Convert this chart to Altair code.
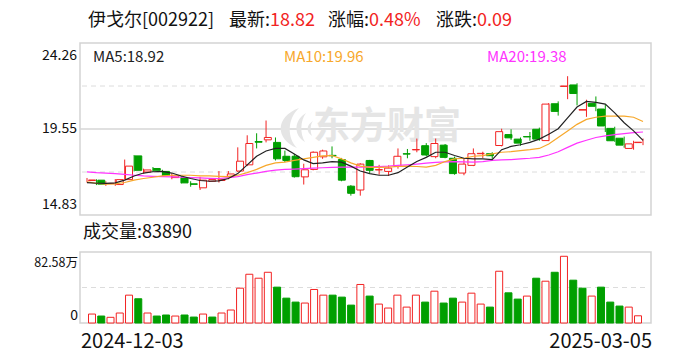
import altair as alt
import pandas as pd

# ---------------- data ----------------
opens = [16.72, 16.74, 16.55, 16.50, 16.77, 18.07, 17.19, 17.38, 17.22, 16.88,
         16.88, 16.54, 16.32, 16.68, 16.72, 16.95, 17.24, 17.58, 18.86, 18.95,
         18.81, 18.05, 18.05, 16.92, 17.33, 18.02, 18.10, 17.87, 16.41, 16.20,
         17.82, 17.30, 17.22, 17.49, 18.19, 18.40, 18.63, 18.03, 18.66, 17.94,
         17.13, 17.55, 18.19, 18.19, 18.64, 19.24, 18.99, 19.13, 19.53, 18.91,
         20.93, 21.88, 21.96, 20.58, 20.95, 20.64, 19.58, 19.04, 18.48, 18.80]
highs = [16.86, 16.79, 16.68, 16.80, 17.87, 18.12, 17.37, 17.46, 17.31, 17.10,
         16.97, 16.68, 16.92, 16.86, 17.24, 17.24, 18.54, 19.20, 19.31, 20.01,
         19.08, 18.36, 18.18, 17.64, 18.32, 18.41, 18.59, 17.96, 16.47, 17.67,
         17.85, 17.58, 17.55, 18.48, 18.45, 19.02, 18.77, 19.02, 18.72, 18.03,
         17.91, 18.48, 18.30, 18.27, 19.56, 19.53, 19.08, 19.38, 19.62, 20.97,
         21.06, 22.44, 22.05, 21.15, 21.33, 20.88, 19.67, 19.13, 18.90, 19.02]
lows = [16.61, 16.47, 16.43, 16.43, 16.77, 17.22, 17.10, 17.19, 16.97, 16.79,
        16.56, 16.38, 16.20, 16.64, 16.61, 16.79, 17.19, 17.51, 18.48, 18.81,
        17.82, 17.73, 16.88, 16.50, 17.28, 17.91, 17.94, 16.68, 15.89, 15.89,
        17.13, 17.04, 16.97, 17.37, 17.94, 18.27, 18.05, 17.94, 17.94, 17.04,
        17.01, 17.51, 17.96, 17.91, 18.59, 18.95, 18.63, 18.90, 18.90, 18.88,
        20.28, 21.18, 20.84, 20.21, 20.52, 19.38, 18.84, 18.52, 18.41, 18.66]
closes = [16.75, 16.52, 16.56, 16.77, 17.51, 17.28, 17.30, 17.28, 17.01, 16.97,
          16.59, 16.51, 16.74, 16.77, 16.79, 17.08, 17.78, 18.75, 18.82, 19.08,
          17.91, 17.82, 16.93, 17.31, 18.27, 18.34, 18.08, 16.74, 16.02, 17.62,
          17.28, 17.32, 17.40, 18.05, 18.17, 18.42, 18.12, 18.75, 17.99, 17.10,
          17.62, 18.19, 18.21, 18.08, 19.40, 19.06, 18.77, 19.11, 18.99, 20.91,
          20.51, 21.90, 21.49, 20.61, 20.79, 19.71, 18.90, 18.66, 18.73, 18.82]
# volume in 万 (10k shares)
volumes = [10.4, 8.1, 6.6, 11.6, 32.4, 28.2, 11.6, 8.1, 9.3, 8.1,
           9.3, 6.9, 10.4, 6.9, 11.6, 15.1, 40.5, 56.7, 52.1, 59.0,
           41.7, 28.9, 24.3, 23.2, 39.0, 32.4, 32.4, 30.1, 20.8, 44.8,
           31.3, 22.0, 17.4, 32.4, 18.5, 32.4, 24.3, 37.0, 23.2, 28.9,
           24.3, 34.7, 22.0, 18.5, 60.2, 35.1, 27.8, 31.3, 52.1, 48.6,
           59.0, 77.6, 49.8, 40.5, 31.3, 41.7, 24.3, 19.7, 18.5, 8.389]
vol_dir = ["up", "down", "up", "up", "up", "down", "up", "down", "down", "up",
           "down", "down", "up", "down", "up", "up", "up", "up", "up", "up",
           "down", "down", "down", "up", "up", "up", "down", "down", "down", "up",
           "down", "up", "up", "up", "up", "up", "down", "up", "down", "down",
           "up", "up", "up", "down", "up", "down", "down", "up", "down", "up",
           "down", "up", "down", "down", "up", "down", "down", "down", "up", "up"]
ma5 = [16.61, 16.57, 16.56, 16.59, 16.74, 16.97, 17.13, 17.20, 17.22, 17.13,
       16.97, 16.83, 16.72, 16.68, 16.70, 16.83, 17.10, 17.58, 18.05, 18.34,
       18.48, 18.48, 18.18, 17.85, 17.65, 17.69, 17.76, 17.73, 17.51, 17.24,
       17.10, 17.01, 17.01, 17.15, 17.46, 17.76, 17.99, 18.27, 18.27, 18.09,
       17.94, 17.91, 17.91, 17.87, 18.41, 18.59, 18.68, 18.81, 18.99, 19.26,
       19.56, 20.16, 20.75, 21.06, 21.00, 20.91, 20.43, 19.89, 19.44, 18.92]
ma10 = [16.65, 16.57, 16.52, 16.54, 16.61, 16.74, 16.83, 16.90, 16.97, 17.01,
        17.01, 17.01, 16.97, 16.97, 16.95, 16.93, 17.01, 17.15, 17.33, 17.55,
        17.69, 17.73, 17.82, 17.91, 17.99, 18.07, 18.09, 17.91, 17.69, 17.51,
        17.44, 17.44, 17.46, 17.49, 17.51, 17.49, 17.46, 17.55, 17.76, 17.91,
        17.94, 18.05, 18.09, 18.18, 18.27, 18.30, 18.36, 18.41, 18.48, 18.72,
        19.08, 19.44, 19.80, 20.07, 20.19, 20.25, 20.25, 20.25, 20.19, 19.96]
ma20 = [17.19, 17.15, 17.13, 17.10, 17.06, 17.01, 16.97, 16.95, 16.93, 16.92,
        16.90, 16.88, 16.86, 16.84, 16.83, 16.88, 16.93, 17.04, 17.13, 17.22,
        17.29, 17.33, 17.35, 17.37, 17.40, 17.42, 17.44, 17.46, 17.46, 17.46,
        17.47, 17.49, 17.51, 17.55, 17.58, 17.62, 17.67, 17.71, 17.74, 17.76,
        17.74, 17.73, 17.76, 17.82, 17.85, 17.87, 17.91, 17.94, 17.99, 18.12,
        18.30, 18.54, 18.77, 18.93, 19.08, 19.17, 19.24, 19.29, 19.35, 19.38]

price_labels = ["24.26", "19.55", "14.83"]
price_top, price_mid, price_bottom = 24.26, 19.55, 14.83
vol_top = 82.58
date_labels = ["2024-12-03", "2025-03-05"]
title_parts = ["伊戈尔[002922]", "最新:", "18.82", "涨幅:", "0.48%", "涨跌:", "0.09"]
ma_labels = ["MA5:18.92", "MA10:19.96", "MA20:19.38"]
volume_label = "成交量:83890"

# ---------------- styling ----------------
RED = "#f22323"
GREEN = "#009f00"
FONT = "Noto Sans CJK SC"
MA_COLORS = ["#222222", "#f7a82b", "#ff33ff"]
WM = "#e5e5e5"

n = len(closes)
df = pd.DataFrame({
    "i": list(range(n)),
    "open": opens, "high": highs, "low": lows, "close": closes,
    "vol": volumes, "vdir": vol_dir,
    "ma5": ma5, "ma10": ma10, "ma20": ma20,
})
df["dir"] = ["up" if c >= o else "down" for o, c in zip(opens, closes)]
df["blo"] = df[["open", "close"]].min(axis=1)
df["bhi"] = df[["open", "close"]].max(axis=1)
df["base"] = 0.0

X = alt.Scale(domain=[0, n - 1], range=[87, 643], nice=False, zero=False)
PY = alt.Scale(domain=[price_bottom, price_top], range=[215, 43], nice=False, zero=False)
VY = alt.Scale(domain=[0, vol_top], range=[323, 252], nice=False, zero=False)
DIR_STROKE = alt.Scale(domain=["up", "down"], range=[RED, GREEN])
DIR_FILL = alt.Scale(domain=["up", "down"], range=["#ffffff", GREEN])

base = alt.Chart(df)
one = pd.DataFrame({"k": [0]})

# frames
frames = alt.Chart(pd.DataFrame({"x": [80, 80], "x2": [651, 651], "y": [43, 252], "y2": [215, 323]})).mark_rect(
    fill="transparent", stroke="#d3d3d3", strokeWidth=1.5
).encode(x=alt.X("x:Q", scale=None), x2="x2:Q", y=alt.Y("y:Q", scale=None), y2="y2:Q")

# grid lines
grid_mid = alt.Chart(pd.DataFrame({"g": [price_mid]})).mark_rule(color="#d6d6d6", strokeWidth=1.5).encode(
    y=alt.Y("g:Q", scale=PY, axis=None), x=alt.value(80), x2=alt.value(651))
grid_dash = alt.Chart(pd.DataFrame({"g": [(price_top * 3 + price_bottom) / 4, (price_top + price_bottom * 3) / 4]})).mark_rule(
    color="#dcdcdc", strokeWidth=1, strokeDash=[5, 4]).encode(
    y=alt.Y("g:Q", scale=PY, axis=None), x=alt.value(82), x2=alt.value(648))
vgrid_dash = alt.Chart(pd.DataFrame({"g": [vol_top / 2]})).mark_rule(
    color="#dcdcdc", strokeWidth=1, strokeDash=[5, 4]).encode(
    y=alt.Y("g:Q", scale=VY, axis=None), x=alt.value(82), x2=alt.value(648))

# watermark (logo + text)
logo_path = ("M0.25,-1 C-0.95,-0.55 -0.95,0.55 0.15,1 C-0.35,0.5 -0.35,-0.45 0.25,-1 Z "
             "M0.6,-0.75 C0.0,-0.4 -0.05,0.35 0.55,0.7 C0.3,0.3 0.3,-0.35 0.6,-0.75 Z "
             "M0.95,-0.35 C0.6,-0.15 0.6,0.2 0.9,0.4 C0.8,0.15 0.8,-0.15 0.95,-0.35 Z")
wm_logo = alt.Chart(one).mark_point(
    shape=logo_path, size=1600, filled=True, color=WM, opacity=1, strokeWidth=0
).encode(x=alt.value(294), y=alt.value(128))
watermark = alt.Chart(one).mark_text(
    text="东方财富", font=FONT, fontSize=37, fontWeight="bold", color=WM, align="center", baseline="middle"
).encode(x=alt.value(387), y=alt.value(128))

# candles
wicks = base.mark_rule(strokeWidth=1).encode(
    x=alt.X("i:Q", scale=X, axis=None),
    y=alt.Y("low:Q", scale=PY, axis=None), y2="high:Q",
    color=alt.Color("dir:N", scale=DIR_STROKE, legend=None))
bodies = base.mark_bar(size=7, strokeWidth=1).encode(
    x=alt.X("i:Q", scale=X, axis=None),
    y=alt.Y("blo:Q", scale=PY, axis=None), y2="bhi:Q",
    fill=alt.Fill("dir:N", scale=DIR_FILL, legend=None),
    stroke=alt.Stroke("dir:N", scale=DIR_STROKE, legend=None))

# moving averages
def ma_line(field, color):
    return base.mark_line(strokeWidth=1.2, color=color).encode(
        x=alt.X("i:Q", scale=X, axis=None),
        y=alt.Y(f"{field}:Q", scale=PY, axis=None))

lines = [ma_line("ma20", MA_COLORS[2]), ma_line("ma10", MA_COLORS[1]), ma_line("ma5", MA_COLORS[0])]

# volume
vbars = base.mark_bar(size=7, strokeWidth=1).encode(
    x=alt.X("i:Q", scale=X, axis=None),
    y=alt.Y("vol:Q", scale=VY, axis=None), y2="base:Q",
    fill=alt.Fill("vdir:N", scale=DIR_FILL, legend=None),
    stroke=alt.Stroke("vdir:N", scale=DIR_STROKE, legend=None))

# texts
def txt(t, x, y, color="#111111", size=14, align="left", baseline="middle"):
    return alt.Chart(one).mark_text(text=t, font=FONT, fontSize=size, color=color, align=align, baseline=baseline).encode(
        x=alt.value(x), y=alt.value(y))

title_x = [88, 229, 270, 328, 369, 436, 477]
title_colors = ["#111111", "#111111", RED, "#111111", RED, "#111111", RED]
texts = [txt(t, x, 21, c, 18) for t, x, c in zip(title_parts, title_x, title_colors)]
texts += [txt(ma_labels[0], 93, 57, MA_COLORS[0], 15),
          txt(ma_labels[1], 284, 57, MA_COLORS[1], 15),
          txt(ma_labels[2], 487, 57, MA_COLORS[2], 15)]
texts += [txt(price_labels[0], 77, 56, size=14, align="right"),
          txt(price_labels[1], 77, 129, size=14, align="right"),
          txt(price_labels[2], 77, 205, size=14, align="right")]
texts += [txt(volume_label, 83, 233, size=18),
          txt("82.58万", 78, 263, size=12.5, align="right"),
          txt("0", 78, 316, size=14, align="right"),
          txt(date_labels[0], 81, 342, size=20),
          txt(date_labels[1], 652, 342, size=20, align="right")]

chart = alt.layer(
    frames, grid_mid, grid_dash, vgrid_dash, wm_logo, watermark,
    wicks, bodies, *lines, vbars, *texts
).resolve_scale(y="independent", x="independent").properties(
    width=688, height=360, autosize=alt.AutoSizeParams(type="none"), padding=0, background="white"
).configure_view(stroke=None)

chart.save("out.html", embed_options={"renderer": "svg", "actions": False})
